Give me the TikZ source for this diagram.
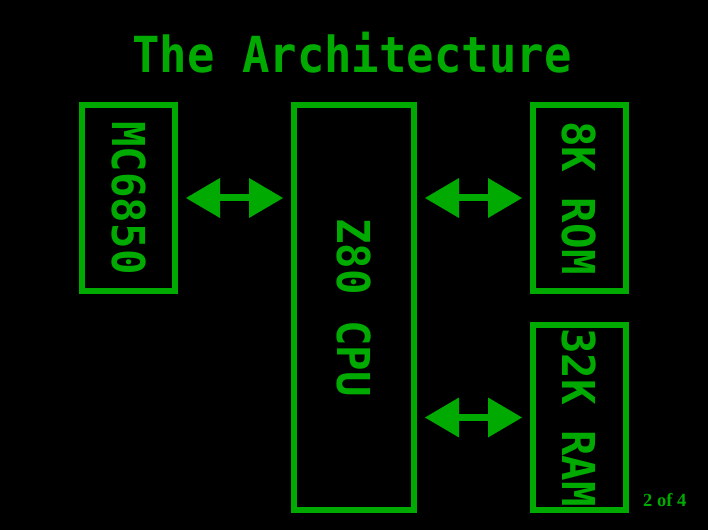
\documentclass[tikz,border=0pt]{standalone}
\usepackage{fontspec}
\usetikzlibrary{arrows.meta}
\newfontfamily\pixfont{DejaVu Sans Mono}
\newfontfamily\pageserif{Liberation Serif}
\definecolor{termgreen}{RGB}{0,170,0}
\tikzset{
  box/.style={draw=termgreen, line width=6pt, inner sep=0pt},
  boxlabel/.style={text=termgreen, rotate=-90, inner sep=0pt, font=\pixfont\bfseries\fontsize{42.4}{42.4}\selectfont},
  bus/.style={draw=termgreen, line width=7pt, shorten <=8pt, shorten >=8pt,
    {Triangle[width=40pt,length=34pt,line width=0pt]}-{Triangle[width=40pt,length=34pt,line width=0pt]}}
}
\begin{document}
\begin{tikzpicture}[x=1pt,y=1pt]
\fill[black] (0,0) rectangle (708,530);
\useasboundingbox (0,0) rectangle (708,530);
% title
\node[text=termgreen, anchor=base, inner sep=0pt, font=\pixfont\bfseries\fontsize{45.6}{45.6}\selectfont] (title) at (352,457) {\scalebox{1}[1.09]{The Architecture}};
% boxes
\node[box, minimum width=93pt, minimum height=186pt] (mc) at (128.5,332) {};
\node[box, minimum width=120pt, minimum height=405pt] (cpu) at (354,222.5) {};
\node[box, minimum width=93pt, minimum height=186pt] (rom) at (579.5,332) {};
\node[box, minimum width=93pt, minimum height=185pt] (ram) at (579.5,112.5) {};
% labels
\node[boxlabel] (mcl) at (mc) {\scalebox{1}[1.07]{MC6850}};
\node[boxlabel] (cpul) at (cpu) {\scalebox{1}[1.07]{Z80 CPU}};
\node[boxlabel] (roml) at (rom) {\scalebox{1}[1.07]{8K ROM}};
\node[boxlabel] (raml) at (ram) {\scalebox{1}[1.07]{32K RAM}};
% buses
\draw[bus] (mc.east) -- (cpu.west |- mc.east);
\draw[bus] (cpu.east |- rom.west) -- (rom.west);
\draw[bus] (cpu.east |- ram.west) -- (ram.west);
% page number
\node[text=termgreen, anchor=base west, inner sep=0pt, font=\pageserif\bfseries\fontsize{18.5}{18.5}\selectfont] (page) at (643,24) {2 of 4};
\end{tikzpicture}
\end{document}
